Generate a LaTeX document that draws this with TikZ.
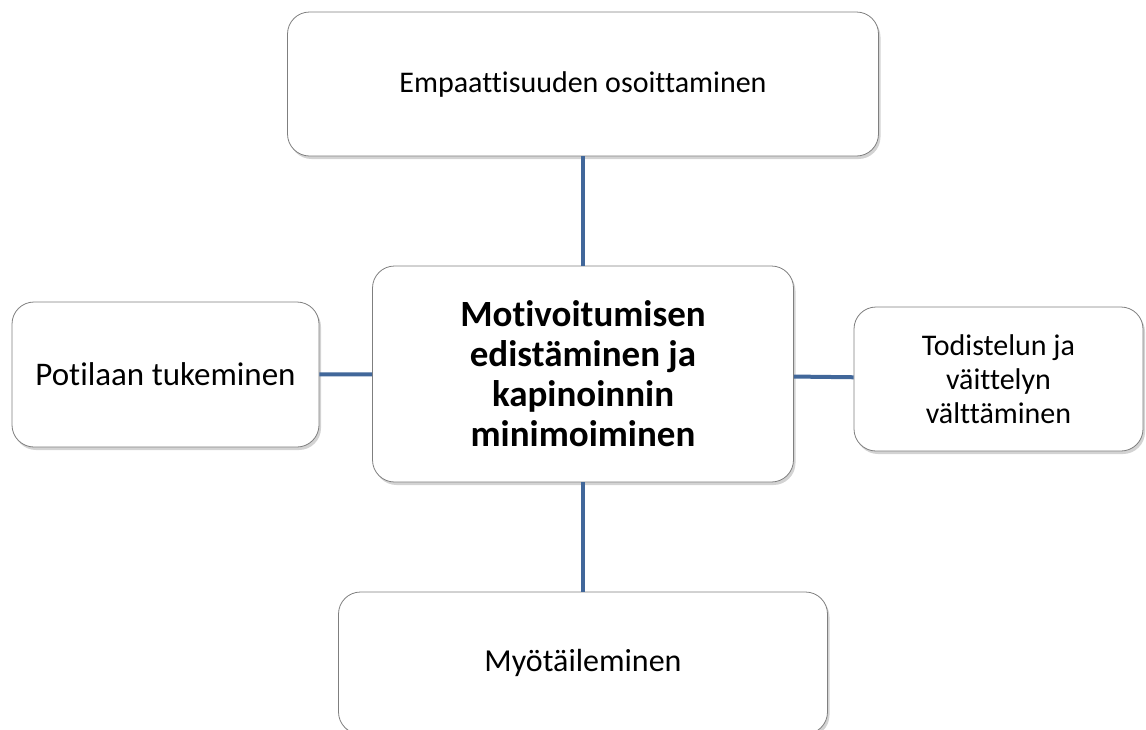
\documentclass[tikz,border=0pt]{standalone}
\usepackage{fontspec}
\setmainfont{Carlito}[Ligatures=NoCommon]
\usetikzlibrary{shadows}
\definecolor{linkblue}{HTML}{41679A}
\definecolor{boxline}{HTML}{7F7F7F}

\begin{document}
\begin{tikzpicture}[x=1pt, y=-1pt,
    box/.style = {draw=boxline, line width=0.8pt, fill=white,
      rounded corners=22pt, align=center, inner sep=0pt,
      font=\fontsize{30}{34}\selectfont,
      drop shadow={opacity=0.35, shadow xshift=2pt, shadow yshift=-3pt}},
    link/.style = {draw=linkblue, line width=4pt}]
    \useasboundingbox (0,0) rectangle (1146,729);
    \clip (0,0) rectangle (1146,729);

    \node[box, minimum width=591pt, minimum height=144pt] (empatia) at (583, 84) {Empaattisuuden osoittaminen};
    \node[box, minimum width=307pt, minimum height=145pt, font=\fontsize{33}{38}\selectfont] (tuki) at (165.5, 374.5) {Potilaan tukeminen};
    \node[box, minimum width=289pt, minimum height=144pt] (todistelu) at (998.5, 379) {Todistelun ja\\ väittelyn\\ välttäminen};
    \node[box, minimum width=489pt, minimum height=142pt, font=\fontsize{32}{36}\selectfont] (myotailu) at (583, 663) {Myötäileminen};
    \node[box, minimum width=421pt, minimum height=216pt, font=\fontsize{37}{40}\selectfont\bfseries] (motivointi) at (583, 374)
      {Motivoitumisen\\ edistäminen ja\\ kapinoinnin\\ minimoiminen};

    \draw[link] (empatia) -- (motivointi);
    \draw[link] (tuki) -- (motivointi);
    \draw[link] (motivointi) -- (todistelu);
    \draw[link] (motivointi) -- (myotailu);
\end{tikzpicture}
\end{document}
